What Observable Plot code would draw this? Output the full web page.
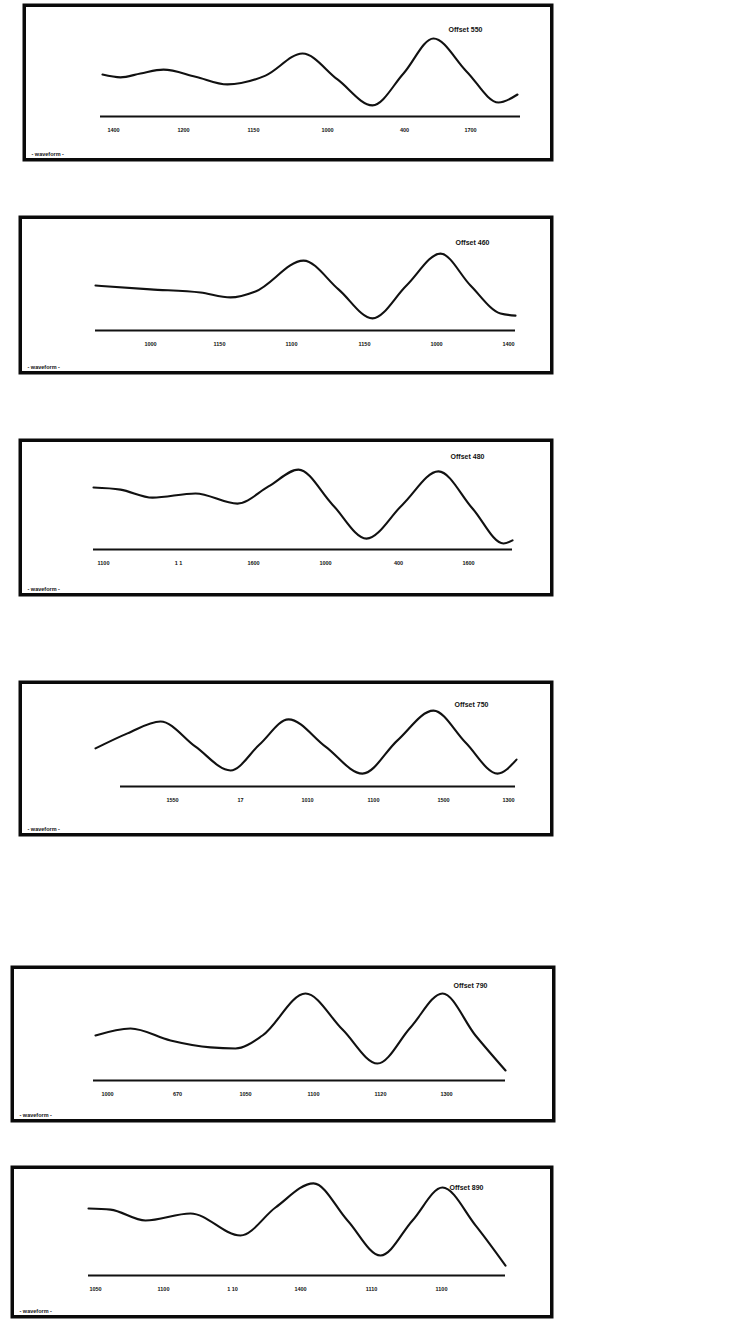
<!DOCTYPE html>
<html>
<head>
<meta charset="utf-8">
<script src="https://cdn.jsdelivr.net/npm/d3@7"></script>
<script src="https://cdn.jsdelivr.net/npm/@observablehq/plot@0.6"></script>
<style>
  html, body { margin: 0; padding: 0; background: #fff; }
  #root { position: relative; width: 739px; height: 1320px; overflow: hidden; }
  #root > div { position: absolute; }
  svg { display: block; }
</style>
</head>
<body>
<div id="root"></div>
<script>
// ---------- data (time in ms, amplitude in arbitrary units) ----------
const titles = ["Offset 550", "Offset 460", "Offset 480", "Offset 750", "Offset 790", "Offset 890"];

const times1 = [2, 20, 40, 63, 95, 127, 165, 202, 237, 272, 303, 333, 366, 398, 417];
const amps1  = [-0.03, -0.11, 0.0, 0.11, -0.09, -0.31, -0.06, 0.57, -0.17, -0.91, 0.0, 1.0, 0.06, -0.83, -0.6];

const times2 = [-5, 50, 100, 130, 155, 203, 238, 272, 306, 340, 370, 400, 415];
const amps2  = [0.0, -0.11, -0.2, -0.34, -0.17, 0.71, -0.11, -0.94, 0.0, 0.91, 0.0, -0.8, -0.86];

const times3 = [-7, 20, 52, 95, 137, 168, 198, 232, 266, 302, 338, 372, 403, 412];
const amps3  = [0.6, 0.54, 0.31, 0.43, 0.14, 0.63, 1.11, 0.11, -0.86, 0.11, 1.06, 0.0, -1.0, -0.91];

const times4 = [-5, 27, 60, 95, 130, 159, 188, 225, 262, 297, 333, 365, 397, 416];
const amps4  = [0.06, 0.49, 0.83, 0.11, -0.57, 0.17, 0.89, 0.11, -0.66, 0.29, 1.14, 0.23, -0.66, -0.26];

const times5 = [-5, 30, 70, 110, 135, 162, 205, 242, 277, 310, 342, 375, 405];
const amps5  = [0.0, 0.2, -0.14, -0.34, -0.37, 0.0, 1.2, 0.17, -0.8, 0.23, 1.2, 0.0, -1.0];

const times6 = [-12, 10, 45, 90, 140, 175, 213, 247, 280, 312, 342, 375, 405];
const amps6  = [0.77, 0.74, 0.43, 0.63, 0.0, 0.8, 1.49, 0.43, -0.57, 0.43, 1.37, 0.29, -0.86];

const tickTimes1 = [13, 83, 153, 227, 304, 370];
const tickTimes2 = [50, 119, 191, 264, 336, 408];
const tickTimes3 = [3, 78, 153, 225, 298, 368];
const tickTimes4 = [72, 140, 207, 273, 343, 408];
const tickTimes5 = [7, 77, 145, 213, 280, 346];
const tickTimes6 = [-5, 63, 132, 200, 271, 341];

const tickLabels1 = ["1400", "1200", "1150", "1000", "400", "1700"];
const tickLabels2 = ["1000", "1150", "1100", "1150", "1000", "1400"];
const tickLabels3 = ["1100", "1 1", "1600", "1000", "400", "1600"];
const tickLabels4 = ["1550", "17", "1010", "1100", "1500", "1300"];
const tickLabels5 = ["1000", "670", "1050", "1100", "1120", "1300"];
const tickLabels6 = ["1050", "1100", "1 10", "1400", "1110", "1100"];

const axisSpan1 = [0, 420];
const axisSpan2 = [-5, 415];
const axisSpan3 = [-7, 412];
const axisSpan4 = [20, 415];
const axisSpan5 = [-7, 405];
const axisSpan6 = [-12, 405];

const footLabel = "- waveform -";

// ---------- layout (page pixels) ----------
const layout = [
  {top: 3,    bottom: 161,  left: 22, right: 553, axisRy: 113, titleX: 465, titleRy: 26},
  {top: 215,  bottom: 374,  left: 18, right: 553, axisRy: 115, titleX: 472, titleRy: 27},
  {top: 438,  bottom: 596,  left: 18, right: 553, axisRy: 111, titleX: 467, titleRy: 18},
  {top: 680,  bottom: 836,  left: 18, right: 553, axisRy: 106, titleX: 471, titleRy: 24},
  {top: 965,  bottom: 1122, left: 10, right: 555, axisRy: 115, titleX: 470, titleRy: 20},
  {top: 1165, bottom: 1318, left: 10, right: 553, axisRy: 110, titleX: 466, titleRy: 22}
];

const series = [
  [times1, amps1, tickTimes1, tickLabels1, axisSpan1],
  [times2, amps2, tickTimes2, tickLabels2, axisSpan2],
  [times3, amps3, tickTimes3, tickLabels3, axisSpan3],
  [times4, amps4, tickTimes4, tickLabels4, axisSpan4],
  [times5, amps5, tickTimes5, tickLabels5, axisSpan5],
  [times6, amps6, tickTimes6, tickLabels6, axisSpan6]
];

const amp = ry => (70 - ry) / 35; // inverse of the y scale below
const font = "Liberation Sans, Arial, sans-serif";
const root = document.getElementById("root");

layout.forEach((L, i) => {
  const [ts, as, tt, tl, span] = series[i];
  const data = ts.map((t, k) => ({t, a: as[k]}));
  const ticks = tt.map((t, k) => ({t, label: tl[k]}));
  const W = L.right - L.left, H = L.bottom - L.top;
  const chart = Plot.plot({
    width: W, height: H,
    margin: 0,
    style: {background: "white", fontFamily: font, overflow: "visible"},
    x: {domain: [0, 425], range: [100 - L.left, 525 - L.left], axis: null},
    y: {domain: [-1, 1], range: [105, 35], axis: null},
    marks: [
      Plot.frame({stroke: "#0a0a0a", strokeWidth: 3.5, inset: 1.75}),
      Plot.ruleY([amp(L.axisRy)], {x1: span[0], x2: span[1], stroke: "#111", strokeWidth: 1.8}),
      Plot.line(data, {x: "t", y: "a", curve: "monotone-x", stroke: "#111", strokeWidth: 2.1}),
      Plot.text(ticks, {x: "t", y: amp(L.axisRy + 14), text: "label", fontSize: 5.5, fontWeight: "bold", fill: "#111"}),
      Plot.text([titles[i]], {x: L.titleX - 100, y: amp(L.titleRy), text: d => d, fontSize: 7, fontWeight: "bold", fill: "#111"}),
      Plot.text([footLabel], {frameAnchor: "bottom-left", dx: 9, dy: -6, text: d => d, fontSize: 5.5, fontWeight: "bold", fill: "#111"})
    ]
  });
  const box = document.createElement("div");
  box.style.left = L.left + "px";
  box.style.top = L.top + "px";
  box.appendChild(chart);
  root.appendChild(box);
});
</script>
</body>
</html>
